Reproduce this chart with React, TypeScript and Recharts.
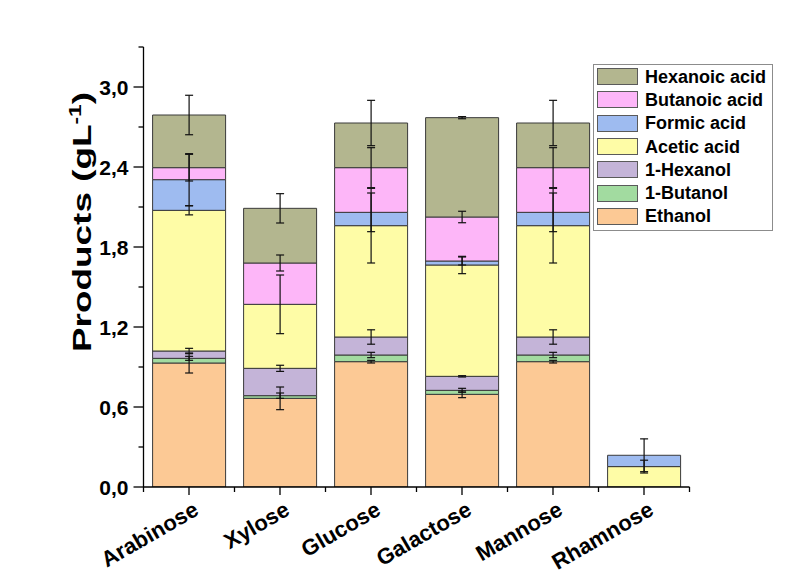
import React from 'react';
import { BarChart, Bar, XAxis, YAxis, ErrorBar } from 'recharts';

// Substrates on the x axis
const sugars = ['Arabinose', 'Xylose', 'Glucose', 'Galactose', 'Mannose', 'Rhamnose'];

// Product concentrations (g/L) per substrate
const ethanol = [0.93, 0.665, 0.94, 0.695, 0.94, 0];
const butanol = [0.035, 0.02, 0.05, 0.03, 0.05, 0];
const hexanol = [0.055, 0.205, 0.135, 0.105, 0.135, 0];
const aceticAcid = [1.055, 0.48, 0.835, 0.835, 0.835, 0.153];
const formicAcid = [0.23, 0, 0.1, 0.03, 0.1, 0.085];
const butanoicAcid = [0.09, 0.31, 0.335, 0.33, 0.335, 0];
const hexanoicAcid = [0.395, 0.41, 0.335, 0.745, 0.335, 0];

// Standard deviations (g/L)
const ethanolSd = [0.075, 0.085, 0.01, 0.025, 0.01, 0.004];
const butanolSd = [0.015, 0.02, 0.02, 0.015, 0.02, 0];
const hexanolSd = [0.02, 0.023, 0.054, 0.005, 0.054, 0];
const aceticSd = [0.034, 0.22, 0.28, 0.065, 0.28, 0.048];
const formicSd = [0.195, 0, 0.145, 0.03, 0.145, 0.123];
const butanoicSd = [0.1, 0.06, 0.15, 0.043, 0.15, 0];
const hexanoicSd = [0.148, 0.11, 0.17, 0.008, 0.17, 0];

// Y axis ticks: labelled every 0.6, minor marks every 0.3
const yTicks = [0, 0.3, 0.6, 0.9, 1.2, 1.5, 1.8, 2.1, 2.4, 2.7, 3.0, 3.3];
const yMax = 3.3;

const FONT = '"Liberation Sans", Arial, sans-serif';

// Stack order, bottom to top
const series = [
  { key: 'ethanol', name: 'Ethanol', color: '#FCC995', values: ethanol, sd: ethanolSd },
  { key: 'butanol', name: '1-Butanol', color: '#A2DBA0', values: butanol, sd: butanolSd },
  { key: 'hexanol', name: '1-Hexanol', color: '#C4B4D8', values: hexanol, sd: hexanolSd },
  { key: 'acetic', name: 'Acetic acid', color: '#FEFCA6', values: aceticAcid, sd: aceticSd },
  { key: 'formic', name: 'Formic acid', color: '#9EBBF0', values: formicAcid, sd: formicSd },
  { key: 'butanoic', name: 'Butanoic acid', color: '#FDB6F8', values: butanoicAcid, sd: butanoicSd },
  { key: 'hexanoic', name: 'Hexanoic acid', color: '#B3B68F', values: hexanoicAcid, sd: hexanoicSd },
];

const rows = sugars.map((sugar, i) => {
  const row: Record<string, string | number> = { sugar };
  series.forEach((s) => {
    row[s.key] = s.values[i];
    row[s.key + 'Sd'] = s.sd[i];
  });
  return row;
});

const W = 800;
const H = 577;
const MARGIN_TOP = 47;
const MARGIN_RIGHT = 110.5;
const Y_AXIS_W = 143.5;
const X_AXIS_H = 90;

const fmt = (v: number) => v.toFixed(1).replace('.', ',');

const YTick = (props: any) => {
  const { x, y, payload } = props;
  const v = payload.value as number;
  const major = Math.round(v * 10) % 6 === 0;
  return (
    <g>
      <line x1={x} x2={x - (major ? 10 : 5)} y1={y} y2={y} stroke="#000" strokeWidth={1.3} />
      {major && (
        <text x={x - 15} y={y} dy="0.36em" textAnchor="end" fontFamily={FONT} fontWeight="bold" fontSize={21} fill="#000">
          {fmt(v)}
        </text>
      )}
    </g>
  );
};

const XTick = (props: any) => {
  const { x, y, payload, index } = props;
  const half = payload.offset || 45.5;
  const tx = x + 11;
  const ty = y + 27;
  return (
    <g>
      <line x1={x} x2={x} y1={y} y2={y + 8} stroke="#000" strokeWidth={1.3} />
      <line x1={x - half} x2={x - half} y1={y} y2={y + 5} stroke="#000" strokeWidth={1.3} />
      {index === sugars.length - 1 && (
        <line x1={x + half} x2={x + half} y1={y} y2={y + 5} stroke="#000" strokeWidth={1.3} />
      )}
      <text
        x={tx}
        y={ty}
        textAnchor="end"
        transform={`rotate(-30, ${tx}, ${ty})`}
        fontFamily={FONT}
        fontWeight="bold"
        fontSize={22}
        fill="#000"
      >
        {payload.value}
      </text>
    </g>
  );
};

const YLabel = () => {
  const cx = 82;
  const cy = 222;
  return (
    <text
      x={0}
      y={0}
      transform={`translate(${cx}, ${cy}) rotate(-90) scale(1.42, 1)`}
      textAnchor="middle"
      dy="0.36em"
      fontFamily={FONT}
      fontWeight="bold"
      fontSize={26}
      fill="#000"
    >
      Products (gL
      <tspan dy={-10} fontSize={16}>-1</tspan>
      <tspan dy={10}>)</tspan>
    </text>
  );
};

const Legend = () => (
  <div
    style={{
      position: 'absolute',
      left: 593,
      top: 64,
      width: 180,
      height: 167,
      boxSizing: 'border-box',
      border: '1px solid #8c8c8c',
      background: '#fff',
      padding: '0 0 0 3px',
      fontFamily: FONT,
    }}
  >
    {[...series].reverse().map((s) => (
      <div key={s.key} style={{ display: 'flex', alignItems: 'center', height: 23.3 }}>
        <div
          style={{
            width: 41,
            height: 17,
            boxSizing: 'border-box',
            border: '1px solid #5a5a5a',
            background: s.color,
          }}
        />
        <span style={{ marginLeft: 7, fontSize: 18, fontWeight: 'bold', color: '#000', lineHeight: '18px' }}>
          {s.name}
        </span>
      </div>
    ))}
  </div>
);

export default function App() {
  return (
    <div style={{ position: 'absolute', left: 0, top: 0, width: W, height: H, background: '#fff' }}>
      {/* Stacked bars with axes */}
      <div style={{ position: 'absolute', left: 0, top: 0 }}>
        <BarChart
          width={W}
          height={H}
          data={rows}
          margin={{ top: MARGIN_TOP, right: MARGIN_RIGHT, bottom: 0, left: 0 }}
          barCategoryGap="10%"
        >
          <XAxis
            dataKey="sugar"
            height={X_AXIS_H}
            interval={0}
            tickSize={0}
            tickMargin={0}
            tickLine={false}
            axisLine={{ stroke: '#000', strokeWidth: 1.3 }}
            tick={<XTick />}
          />
          <YAxis
            type="number"
            domain={[0, yMax]}
            allowDataOverflow
            ticks={yTicks}
            interval={0}
            width={Y_AXIS_W}
            tickSize={0}
            tickMargin={0}
            tickLine={false}
            axisLine={{ stroke: '#000', strokeWidth: 1.3 }}
            tick={<YTick />}
            label={<YLabel />}
          />
          {series.map((s) => (
            <Bar
              key={s.key}
              dataKey={s.key}
              name={s.name}
              stackId="products"
              fill={s.color}
              stroke="#3a3a3a"
              strokeWidth={1}
              isAnimationActive={false}
            />
          ))}
        </BarChart>
      </div>
      {/* Error bars drawn above every stacked segment */}
      <div style={{ position: 'absolute', left: 0, top: 0, pointerEvents: 'none' }}>
        <BarChart
          width={W}
          height={H}
          data={rows}
          margin={{ top: MARGIN_TOP, right: MARGIN_RIGHT, bottom: X_AXIS_H, left: Y_AXIS_W }}
          barCategoryGap="10%"
        >
          <XAxis dataKey="sugar" hide />
          <YAxis type="number" domain={[0, yMax]} allowDataOverflow hide />
          {series.map((s) => (
            <Bar
              key={s.key}
              dataKey={s.key}
              stackId="products"
              fill="none"
              stroke="none"
              isAnimationActive={false}
            >
              <ErrorBar dataKey={s.key + 'Sd'} width={4} stroke="#111" strokeWidth={1.2} direction="y" />
            </Bar>
          ))}
        </BarChart>
      </div>
      <Legend />
    </div>
  );
}
